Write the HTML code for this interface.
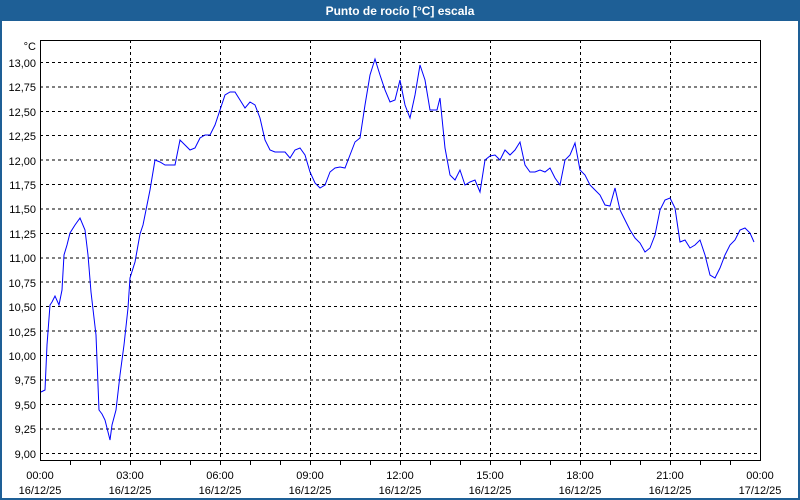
<!DOCTYPE html>
<html><head><meta charset="utf-8"><style>
body{margin:0;width:800px;height:500px;overflow:hidden;background:#fff;font-family:"Liberation Sans",sans-serif}
</style></head><body>
<svg width="800" height="500" xmlns="http://www.w3.org/2000/svg" style="position:absolute;left:0;top:0">
<rect x="0" y="0" width="800" height="500" fill="#1e5f96"/>
<rect x="2" y="21" width="796" height="477" fill="#fff"/>
<text x="400" y="15" fill="#fff" font-size="12" font-weight="bold" text-anchor="middle" font-family="Liberation Sans, sans-serif">Punto de rocío [°C] escala</text>
<g stroke="#000" stroke-width="1" stroke-dasharray="3,3" shape-rendering="crispEdges">
<line x1="40" x2="760" y1="62.5" y2="62.5"/><line x1="40" x2="760" y1="87" y2="87"/><line x1="40" x2="760" y1="111.5" y2="111.5"/><line x1="40" x2="760" y1="135.5" y2="135.5"/><line x1="40" x2="760" y1="160" y2="160"/><line x1="40" x2="760" y1="184.5" y2="184.5"/><line x1="40" x2="760" y1="209" y2="209"/><line x1="40" x2="760" y1="233.5" y2="233.5"/><line x1="40" x2="760" y1="258" y2="258"/><line x1="40" x2="760" y1="282" y2="282"/><line x1="40" x2="760" y1="306.5" y2="306.5"/><line x1="40" x2="760" y1="331" y2="331"/><line x1="40" x2="760" y1="355.5" y2="355.5"/><line x1="40" x2="760" y1="380" y2="380"/><line x1="40" x2="760" y1="404.5" y2="404.5"/><line x1="40" x2="760" y1="429" y2="429"/><line x1="40" x2="760" y1="453.5" y2="453.5"/>
<line x1="130.5" x2="130.5" y1="40" y2="460"/><line x1="220.5" x2="220.5" y1="40" y2="460"/><line x1="310.5" x2="310.5" y1="40" y2="460"/><line x1="400.5" x2="400.5" y1="40" y2="460"/><line x1="490.5" x2="490.5" y1="40" y2="460"/><line x1="580.5" x2="580.5" y1="40" y2="460"/><line x1="670.5" x2="670.5" y1="40" y2="460"/>
</g>
<rect x="40.5" y="40.5" width="720" height="420" fill="none" stroke="#000" shape-rendering="crispEdges"/>
<g stroke="#000" shape-rendering="crispEdges">
<line x1="70.5" x2="70.5" y1="460" y2="465"/><line x1="100.5" x2="100.5" y1="460" y2="465"/><line x1="130.5" x2="130.5" y1="460" y2="465"/><line x1="160.5" x2="160.5" y1="460" y2="465"/><line x1="190.5" x2="190.5" y1="460" y2="465"/><line x1="220.5" x2="220.5" y1="460" y2="465"/><line x1="250.5" x2="250.5" y1="460" y2="465"/><line x1="280.5" x2="280.5" y1="460" y2="465"/><line x1="310.5" x2="310.5" y1="460" y2="465"/><line x1="340.5" x2="340.5" y1="460" y2="465"/><line x1="370.5" x2="370.5" y1="460" y2="465"/><line x1="400.5" x2="400.5" y1="460" y2="465"/><line x1="430.5" x2="430.5" y1="460" y2="465"/><line x1="460.5" x2="460.5" y1="460" y2="465"/><line x1="490.5" x2="490.5" y1="460" y2="465"/><line x1="520.5" x2="520.5" y1="460" y2="465"/><line x1="550.5" x2="550.5" y1="460" y2="465"/><line x1="580.5" x2="580.5" y1="460" y2="465"/><line x1="610.5" x2="610.5" y1="460" y2="465"/><line x1="640.5" x2="640.5" y1="460" y2="465"/><line x1="670.5" x2="670.5" y1="460" y2="465"/><line x1="700.5" x2="700.5" y1="460" y2="465"/><line x1="730.5" x2="730.5" y1="460" y2="465"/>
</g>
<g font-size="11" fill="#000" text-anchor="end" font-family="Liberation Sans, sans-serif">
<text x="36" y="50">°C</text>
<text x="36" y="67">13,00</text><text x="36" y="91">12,75</text><text x="36" y="116">12,50</text><text x="36" y="140">12,25</text><text x="36" y="165">12,00</text><text x="36" y="189">11,75</text><text x="36" y="213">11,50</text><text x="36" y="238">11,25</text><text x="36" y="262">11,00</text><text x="36" y="287">10,75</text><text x="36" y="311">10,50</text><text x="36" y="336">10,25</text><text x="36" y="360">10,00</text><text x="36" y="384">9,75</text><text x="36" y="409">9,50</text><text x="36" y="433">9,25</text><text x="36" y="458">9,00</text>
</g>
<g font-size="11" fill="#000" text-anchor="middle" font-family="Liberation Sans, sans-serif">
<text x="40" y="479">00:00</text><text x="40" y="494">16/12/25</text>
<text x="130" y="479">03:00</text><text x="130" y="494">16/12/25</text>
<text x="220" y="479">06:00</text><text x="220" y="494">16/12/25</text>
<text x="310" y="479">09:00</text><text x="310" y="494">16/12/25</text>
<text x="400" y="479">12:00</text><text x="400" y="494">16/12/25</text>
<text x="490" y="479">15:00</text><text x="490" y="494">16/12/25</text>
<text x="580" y="479">18:00</text><text x="580" y="494">16/12/25</text>
<text x="670" y="479">21:00</text><text x="670" y="494">16/12/25</text>
<text x="760" y="479">00:00</text><text x="760" y="494">17/12/25</text>
</g>
<polyline fill="none" stroke="#0000ff" stroke-width="1" points="41,392 45,390 47,345 50,305 52,302 55,296 59,305 62,290 64,255 67,245 70,233 75,225 80,218 85,230 88,255 91,292 96,335 99,410 102,414 105,420 110,440 112,425 116,410 120,375 124,345 128,308 130,278 135,262 140,234 143,225 148,200 150,190 155,160 160,162 165,165 170,165 175,165 180,140 185,145 190,150 195,148 200,138 205,135 210,135 215,125 220,110 225,95 230,92 235,92 240,100 245,108 250,102 255,105 260,118 265,140 270,150 275,152 280,152 285,152 290,158 295,150 300,148 305,155 310,172 315,183 320,188 325,185 330,172 335,168 340,167 345,168 350,155 355,142 360,138 365,105 370,75 375,59 380,75 385,90 390,102 395,100 400,80 405,105 410,118 415,95 420,65 425,80 430,110 437,110 440,98 445,148 450,175 455,180 460,170 465,185 470,182 475,180 480,192 485,160 490,156 495,155 500,160 505,150 510,155 515,150 520,142 525,165 530,172 535,172 540,170 545,172 550,168 555,178 560,185 565,160 570,155 575,143 580,170 585,175 590,185 595,190 600,195 605,205 610,206 615,188 620,210 625,220 630,230 635,238 640,243 645,252 650,248 655,235 660,210 665,200 670,198 675,208 680,242 685,240 690,248 695,245 700,240 705,255 710,275 715,278 720,268 725,255 730,245 735,240 740,230 745,228 750,233 754,242"/>
</svg>
</body></html>
